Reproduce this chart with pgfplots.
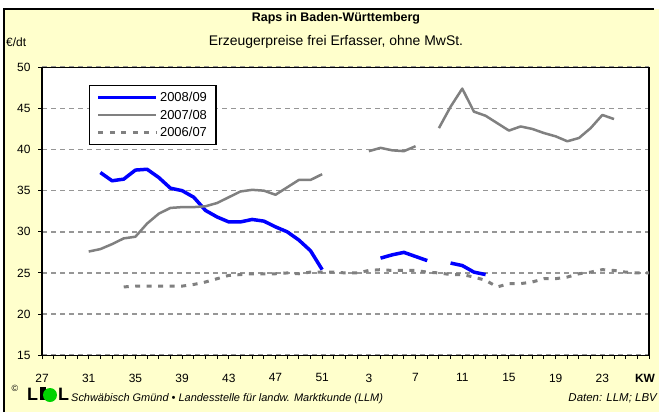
\documentclass[border=0pt]{standalone}
\usepackage{pgfplots}
\pgfplotsset{compat=1.18}
\usepackage{pgfplotstable}
\usepackage{fontspec}
\setmainfont{Liberation Sans}
\definecolor{bgy}{RGB}{255,255,204}
\definecolor{lgray}{RGB}{128,128,128}
\definecolor{ggray}{RGB}{150,150,150}
\definecolor{lblue}{RGB}{0,0,255}
\definecolor{lgreen}{RGB}{0,210,0}

\pgfplotstableread{
x y
5 37.2
6 36.2
7 36.4
8 37.5
9 37.6
10 36.6
11 35.3
12 35.0
13 34.2
14 32.6
15 31.8
16 31.2
17 31.2
18 31.5
19 31.3
20 30.6
21 30.0
22 29.0
23 27.7
24 25.4
25 nan
28 nan
29 26.8
30 27.2
31 27.5
32 27.0
33 26.5
34 nan
35 26.2
36 25.9
37 25.1
38 24.8
}\tblA

\pgfplotstableread{
x y
4 27.6
5 27.9
6 28.5
7 29.2
8 29.4
9 31.0
10 32.2
11 32.9
12 33.0
13 33.0
14 33.1
15 33.5
16 34.2
17 34.9
18 35.1
19 35.0
20 34.5
21 35.4
22 36.3
23 36.3
24 37.0
25 nan
27 nan
28 39.8
29 40.2
30 39.9
31 39.8
32 40.4
33 nan
34 42.6
35 45.2
36 47.4
37 44.6
38 44.1
39 43.2
40 42.3
41 42.8
42 42.5
43 42.0
44 41.6
45 41.0
46 41.4
47 42.6
48 44.2
49 43.7
}\tblB

\pgfplotstableread{
x y
7 23.3
8 23.4
9 23.4
10 23.4
11 23.4
12 23.4
13 23.6
14 23.9
15 24.3
16 24.7
17 24.8
18 24.9
19 24.9
20 24.9
21 25.0
22 24.9
23 25.1
24 25.1
25 25.1
26 25.0
27 25.0
28 25.3
29 25.4
30 25.3
31 25.3
32 25.3
33 25.1
34 25.0
35 24.8
36 24.8
37 24.5
38 24.1
39 23.3
40 23.7
41 23.7
42 23.9
43 24.3
44 24.3
45 24.5
46 24.9
47 25.1
48 25.4
49 25.3
50 25.1
51 25.0
52 25.0
}\tblC

\begin{document}
\begin{tikzpicture}[x=1bp,y=1bp]
\useasboundingbox (0,0) rectangle (659,412);
\fill[white] (0,0) rectangle (659,412);
\fill[bgy] (4,0) rectangle (659,403);
\draw[black, line width=1.2bp] (4,0) -- (4,403) -- (654,403);
\node[font=\bfseries\fontsize{12.5}{14}\selectfont] at (336,394) {Raps in Baden-Württemberg};
\node[font=\fontsize{14}{16}\selectfont] at (336,370) {Erzeugerpreise frei Erfasser, ohne MwSt.};
\node[font=\fontsize{12}{14}\selectfont, anchor=west, inner sep=0pt] at (6,370) {€/dt};
\node[font=\bfseries\fontsize{12}{14}\selectfont] at (645,34) {KW};
\node[font=\fontsize{9}{10}\selectfont, inner sep=0pt] at (15,24) {\textcopyright};
\node[font=\bfseries\fontsize{18}{18}\selectfont, anchor=base west, inner sep=0pt] at (27,12) {L};
\fill[black] (40,12) rectangle (46,25);
\fill[lgreen] (50,17) circle (7);
\node[font=\bfseries\fontsize{18}{18}\selectfont, anchor=base west, inner sep=0pt] at (58,12) {L};
\node[font=\itshape\fontsize{11}{13}\selectfont, anchor=base west, inner sep=0pt] at (71,11) {Schwäbisch Gmünd • Landesstelle für landw. Marktkunde (LLM)};
\node[font=\itshape\fontsize{11.5}{13}\selectfont, anchor=base east, inner sep=0pt] at (657,11) {Daten: LLM; LBV};
\begin{axis}[
  at={(36,69)}, anchor=south west, scale only axis,
  width=607bp, height=288bp,
  xmin=0, xmax=52, ymin=15, ymax=50,
  axis background/.style={fill=white},
  axis line style={black, line width=1.2bp},
  ytick={15,20,...,50},
  xtick={0,4,...,48},
  xticklabels={27,31,35,39,43,47,51,3,7,11,15,19,23},
  minor xtick={0,...,52},
  tick align=outside,
  major tick length=4bp, minor tick length=4bp,
  tick style={black, line width=1bp},
  xtick pos=bottom, ytick pos=left,
  ymajorgrids,
  grid style={ggray, line width=1.5bp, dash pattern=on 5bp off 4bp},
  ticklabel style={font=\fontsize{12}{14}\selectfont},
  /pgf/number format/assume math mode=true,
  xticklabel style={yshift=-11bp},
  yticklabel style={xshift=-4bp},
  unbounded coords=jump,
  legend cell align=left,
  legend image code/.code={\draw[#1] (0bp,0bp) -- (58bp,0bp);},
  legend style={at={(rel axis cs:0.0774,0.9375)}, anchor=north west,
    draw=black, line width=1.2bp, fill=white,
    font=\fontsize{13}{15}\selectfont, inner xsep=7bp, inner ysep=4bp,
    row sep=3bp,
    /tikz/every even column/.append style={column sep=1bp}},
]
\addplot[lblue, line width=3.5bp, line join=round] table[x=x,y=y] {\tblA};
\addlegendentry{2008/09}
\addplot[lgray, line width=2.5bp, line join=round] table[x=x,y=y] {\tblB};
\addlegendentry{2007/08}
\addplot[lgray, line width=3bp, dash pattern=on 5bp off 6.5bp] table[x=x,y=y] {\tblC};
\addlegendentry{2006/07}
\end{axis}
\end{tikzpicture}
\end{document}
